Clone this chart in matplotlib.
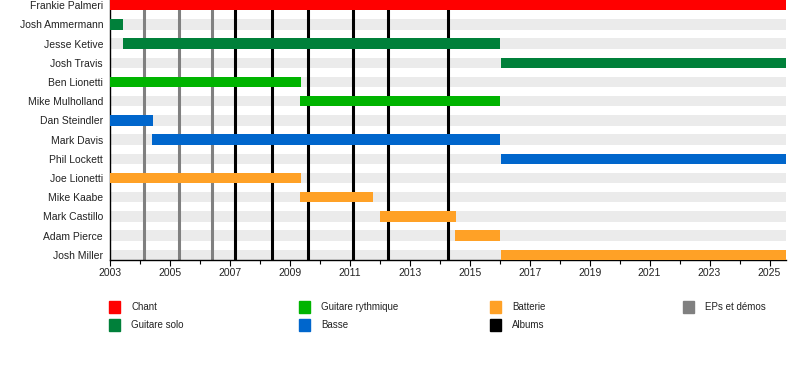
"""
Band member timeline (EasyTimeline style), saved as out.png.
"""

import matplotlib.pyplot as plt
from matplotlib.patches import Rectangle

plt.rcParams['font.family'] = ['Liberation Sans', 'DejaVu Sans']

# -----------------------------------------------------------------------
# Data
# -----------------------------------------------------------------------
members = ['Frankie Palmeri', 'Josh Ammermann', 'Jesse Ketive', 'Josh Travis',
           'Ben Lionetti', 'Mike Mulholland', 'Dan Steindler', 'Mark Davis',
           'Phil Lockett', 'Joe Lionetti', 'Mike Kaabe', 'Mark Castillo',
           'Adam Pierce', 'Josh Miller']
roles = ['Chant', 'Guitare solo', 'Guitare solo', 'Guitare solo',
         'Guitare rythmique', 'Guitare rythmique', 'Basse', 'Basse',
         'Basse', 'Batterie', 'Batterie', 'Batterie',
         'Batterie', 'Batterie']
END = 2025.55
starts = [2003.0, 2003.0, 2003.42, 2016.05,
          2003.0, 2009.33, 2003.0, 2004.4,
          2016.05, 2003.0, 2009.33, 2012.0,
          2014.5, 2016.05]
ends = [END, 2003.43, 2016.0, END,
        2009.37, 2016.0, 2004.43, 2016.0,
        END, 2009.37, 2011.76, 2014.53,
        2016.0, END]

eps = [2004.14, 2005.31, 2006.41]
albums = [2007.18, 2008.39, 2009.6, 2011.11, 2012.28, 2014.28]

legend_labels = ['Chant', 'Guitare solo', 'Guitare rythmique', 'Basse',
                 'Batterie', 'Albums', 'EPs et démos']
colors = {
    'Chant':             '#ff0000',
    'Guitare solo':      '#00803a',
    'Guitare rythmique': '#00b400',
    'Basse':             '#0066cc',
    'Batterie':          '#ffa126',
    'Albums':            '#000000',
    'EPs et démos':      '#808080',
}

# -----------------------------------------------------------------------
# Plot
# -----------------------------------------------------------------------
fig = plt.figure(figsize=(8, 3.8), dpi=100)
ax = fig.add_axes([110 / 800, 1 - 260 / 380, 676 / 800, 260 / 380])

h = 0.54
n = len(members)
rows = list(range(n))

# light grey background stripes
ax.barh(rows, END - 2003.0, left=2003.0, height=h, color='#ebebeb', zorder=1)

# releases
for x in eps:
    ax.axvline(x, color=colors['EPs et démos'], lw=2.2, zorder=2)
for x in albums:
    ax.axvline(x, color=colors['Albums'], lw=2.2, zorder=2)

# member bars
for i, (s, e, r) in enumerate(zip(starts, ends, roles)):
    ax.barh(i, e - s, left=s, height=h, color=colors[r], zorder=3)

ax.set_ylim(n - 1 + h / 2, -h / 2)
ax.set_xlim(2003, END)
ax.set_yticks(rows)
ax.set_yticklabels(members, fontsize=7.5, color='#222222')
ax.tick_params(axis='y', length=0, pad=5)
ax.set_xticks(range(2003, 2026, 2))
ax.set_xticks(range(2003, 2026), minor=True)
ax.tick_params(axis='x', labelsize=7.5, length=4, width=0.8, pad=2,
               labelcolor='#222222')
ax.tick_params(axis='x', which='minor', length=3, width=0.8)
for side in ('top', 'right'):
    ax.spines[side].set_visible(False)
for side in ('left', 'bottom'):
    ax.spines[side].set_linewidth(1.0)

# legend, laid out column by column (2 rows)
for k, label in enumerate(legend_labels):
    col, row = divmod(k, 2)
    x0 = [110, 300, 491, 684][col] / 800
    yc = 1 - (307 + row * 18) / 380
    fig.patches.append(Rectangle((x0 - 1 / 800, yc - 6 / 380), 11 / 800, 12 / 380,
                                 transform=fig.transFigure,
                                 color=colors[label]))
    fig.text(x0 + 21 / 800, yc, label, fontsize=7, va='center', ha='left',
             color='#222222')

fig.savefig('out.png', dpi=100)
